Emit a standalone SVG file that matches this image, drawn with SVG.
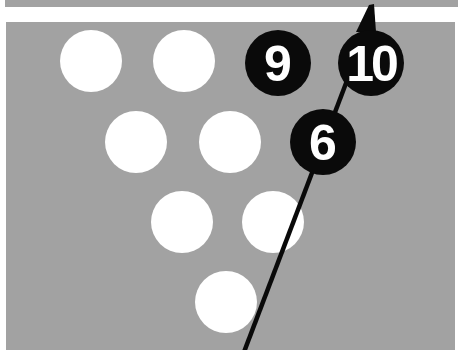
<svg xmlns="http://www.w3.org/2000/svg" width="458" height="350" viewBox="0 0 458 350">
<defs>
<style>
.pin{fill:#ffffff}
.hit{fill:#0a0a0a}
.num{fill:#ffffff;font-family:"Liberation Sans",Arial,sans-serif;font-weight:bold;font-size:50px;text-anchor:middle}
.path{stroke:#0a0a0a;stroke-width:4.5;fill:none}
.head{fill:#0a0a0a}
</style>
</defs>
<rect x="0" y="0" width="458" height="350" fill="#ffffff"/>
<rect x="5" y="0" width="453" height="7" fill="#a2a2a2"/>
<rect x="6" y="22" width="449" height="328" fill="#a2a2a2"/>
<g id="pin7"><circle class="pin" cx="91" cy="61" r="31"/></g>
<g id="pin8"><circle class="pin" cx="184" cy="61" r="31"/></g>
<g id="pin4"><circle class="pin" cx="136" cy="142" r="31"/></g>
<g id="pin5"><circle class="pin" cx="230" cy="142" r="31"/></g>
<g id="pin2"><circle class="pin" cx="182" cy="222" r="31"/></g>
<g id="pin3"><circle class="pin" cx="273" cy="222" r="31"/></g>
<g id="pin1"><circle class="pin" cx="226" cy="302" r="31"/></g>
<g id="connectors">
<line class="path" x1="244" y1="352" x2="370" y2="20"/>
<polygon class="head" points="369,5 374,4 376,32 356,32"/>
</g>
<g id="pin9"><circle class="hit" cx="278" cy="63" r="33"/><text class="num" x="278" y="81">9</text></g>
<g id="pin10"><circle class="hit" cx="371" cy="63" r="33"/><text class="num" x="371" y="81" letter-spacing="-3">10</text></g>
<g id="pin6"><circle class="hit" cx="323" cy="142" r="33"/><text class="num" x="323" y="160">6</text></g>
</svg>
